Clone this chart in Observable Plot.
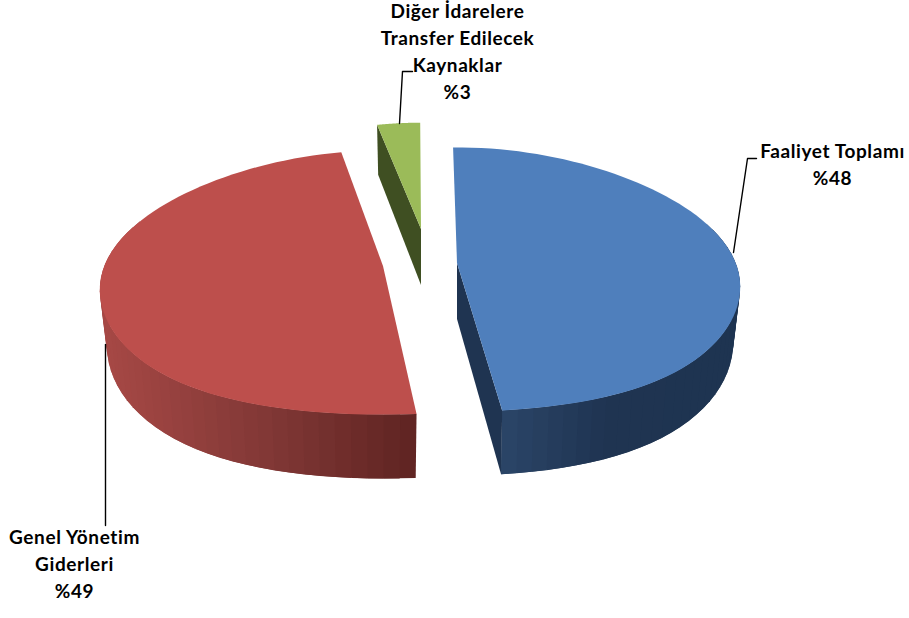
<!DOCTYPE html>
<html lang="tr">
<head>
<meta charset="utf-8">
<script src="https://cdn.jsdelivr.net/npm/d3@7"></script>
<script src="https://cdn.jsdelivr.net/npm/@observablehq/plot@0.6"></script>
<style>html,body{margin:0;padding:0;background:#fff}svg{display:block}</style>
</head>
<body>
<div id="chart"></div>
<script>
// Chart values
const categories = ["Faaliyet Toplamı", "Genel Yönetim Giderleri", "Diğer İdarelere Transfer Edilecek Kaynaklar"];
const shares = [48, 49, 3];
const labelLines = ["Faaliyet Toplamı\n%48", "Genel Yönetim\nGiderleri\n%49", "Diğer İdarelere\nTransfer Edilecek\nKaynaklar\n%3"];

// Layout and style (apart from the values)
const topColors = ["#4f7fbc", "#bd4f4c", "#9bbb59"];
const sideStart = ["#2b4568", "#a64845", "#3f4f22"];
const sideMiddle = ["#1f3451", "#863a38", "#3f4f22"];
const sideEnd = ["#1e3451", "#5f2422", "#3f4f22"];
const sideBreak = [0.45, 0.45, 0.5];
const apexX = [457, 383, 421];
const apexY = [263, 266, 229];
const startDeg = [-0.9, 174, 349];
const radiusScale = [1, 1, 0.92];
const labelX = [832, 74, 457];
const labelY = [162, 562, 49];
const leaderX = [[733, 747, 756], [105, 105], [399, 402, 412]];
const leaderY = [[252, 158, 158], [344, 525], [123, 71, 71]];

const A = 281, B = 130, K = 0.125, DEPTH = 56, BOTTOM_SHRINK = 0.975, SAG = 7, SAG_FRONT = 5, SAG_BACK = 1.5;

function project(i, deg, r, bottom) {
  const t = deg * Math.PI / 180;
  const X = Math.sin(t) * r, Y = Math.cos(t) * r;
  const w = 1 + K * Y;
  const s = radiusScale[i] * (bottom ? BOTTOM_SHRINK : 1);
  const sag = SAG * X * X + (Y < 0 ? SAG_FRONT : SAG_BACK) * 4 * X * X * Y * Y;
  return {
    x: apexX[i] + A * s * X / w,
    y: apexY[i] - B * radiusScale[i] * Y / w + sag * radiusScale[i] + (bottom ? DEPTH / w : 0)
  };
}

const faces = [], walls = [], cuts = [];
shares.forEach((v, i) => {
  const span = v * 3.6, start = startDeg[i], n = 80;
  const cat = categories[i];
  for (let k = 0; k <= n; k++) {
    const deg = start + span * k / n;
    const p = project(i, deg, 1, false);
    faces.push({cat, x1: apexX[i], y1: apexY[i], x2: p.x, y2: p.y});
  }
  // outer side wall, one strip per step so the shading can change along it
  const side = d3.scaleLinear().domain([0, sideBreak[i], 1]).range([sideStart[i], sideMiddle[i], sideEnd[i]]);
  const strips = 60;
  for (let k = 0; k < strips; k++) {
    const a0 = start + span * k / strips;
    const a1 = start + span * Math.min(strips, k + 2) / strips;
    const mid = a0 + span / strips / 2;
    if (Math.cos(mid * Math.PI / 180) > 0.35) continue;
    const top0 = project(i, a0, 1, false), top1 = project(i, a1, 1, false);
    const bot0 = project(i, a0, 1, true), bot1 = project(i, a1, 1, true);
    const xs = project(i, mid, 1, false).x;
    let f;
    if (i === 0) f = Math.min(1, Math.max(0, (xs - 503) / 230));
    else if (i === 1) f = Math.min(1, Math.max(0, (xs - 105) / 311));
    else f = 0.5;
    const fill = d3.color(side(f)).formatHex();
    walls.push({id: `${i}-${k}`, fill, x1: bot0.x, y1: bot0.y, x2: top0.x, y2: top0.y});
    walls.push({id: `${i}-${k}`, fill, x1: bot1.x, y1: bot1.y, x2: top1.x, y2: top1.y});
  }
});

// the cut walls seen through the exploded gaps
function cutWall(i, deg) {
  const rim = project(i, deg, 1, false), rimB = project(i, deg, 1, true);
  const a = project(i, deg, 0, false), aB = project(i, deg, 0, true);
  const id = `cut-${i}`;
  cuts.push({id, fill: sideMiddle[i], x1: aB.x, y1: aB.y, x2: a.x, y2: a.y});
  cuts.push({id, fill: sideMiddle[i], x1: rimB.x, y1: rimB.y, x2: rim.x, y2: rim.y});
}
cutWall(0, startDeg[0] + shares[0] * 3.6);
cutWall(2, startDeg[2]);

const labels = categories.map((c, i) => ({text: labelLines[i], x: labelX[i], y: labelY[i]}));
const leaders = leaderX.flatMap((xs, i) => xs.map((x, k) => ({id: i, x, y: leaderY[i][k]})));

const chart = Plot.plot({
  width: 909,
  height: 618,
  margin: 0,
  style: "letter-spacing:.6px",
  x: {domain: [0, 909], range: [0, 909], axis: null},
  y: {domain: [0, 618], range: [0, 618], axis: null},
  color: {domain: categories, range: topColors},
  marks: [
    Plot.area(walls, {x1: "x1", y1: "y1", x2: "x2", y2: "y2", z: "id", fill: "fill"}),
    Plot.area(cuts, {x1: "x1", y1: "y1", x2: "x2", y2: "y2", z: "id", fill: "fill"}),
    Plot.area(faces, {x1: "x1", y1: "y1", x2: "x2", y2: "y2", z: "cat", fill: "cat"}),
    Plot.line(leaders, {x: "x", y: "y", z: "id", stroke: "#000", strokeWidth: 1.4, curve: "linear"}),
    Plot.text(labels, {
      x: "x", y: "y", text: "text", lineHeight: 1.42,
      fontFamily: "Lato", fontWeight: 700, fontSize: 19, fill: "#000", textAnchor: "middle"
    })
  ]
});
document.getElementById("chart").append(chart);
</script>
</body>
</html>
